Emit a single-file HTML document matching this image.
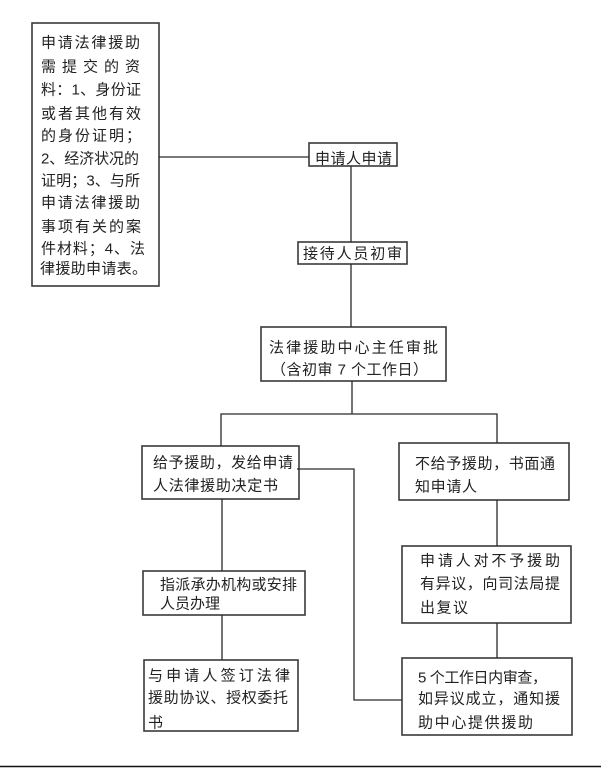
<!DOCTYPE html>
<html><head><meta charset="utf-8"><style>
html,body{margin:0;padding:0;background:#fff;}
svg{display:block;}
text{font-family:"Liberation Sans","Noto Sans CJK SC","WenQuanYi Zen Hei",sans-serif;font-size:15px;fill:#222;}
</style></head><body>
<svg width="601" height="768" viewBox="0 0 601 768" xmlns="http://www.w3.org/2000/svg">
<g fill="none" stroke="#3a3a3a" stroke-width="1.6">
<rect x="32" y="23" width="127" height="263"/>
<rect x="309" y="143" width="88" height="23"/>
<rect x="298" y="242" width="109" height="22"/>
<rect x="261" y="327" width="185" height="54"/>
<rect x="142" y="446" width="157" height="53"/>
<rect x="399" y="443" width="170" height="57"/>
<rect x="143" y="571" width="162" height="44"/>
<rect x="402" y="546" width="169" height="77"/>
<rect x="144" y="660" width="154" height="71"/>
<rect x="402" y="658" width="170" height="77"/>
</g>
<g fill="none" stroke="#2a2a2a" stroke-width="1.3">
<line x1="159" y1="157" x2="309" y2="157"/>
<line x1="351" y1="166" x2="351" y2="242"/>
<line x1="351" y1="264" x2="351" y2="327"/>
<line x1="352" y1="381" x2="352" y2="414"/>
<polyline points="221,446 221,414 497,414 497,443"/>
<line x1="497" y1="500" x2="497" y2="546"/>
<line x1="497" y1="623" x2="497" y2="658"/>
<line x1="222" y1="499" x2="222" y2="571"/>
<line x1="222" y1="615" x2="222" y2="660"/>
<polyline points="297,469 354,469 354,700 402,700"/>
</g>
<line x1="0" y1="766.5" x2="601" y2="766.5" stroke="#111" stroke-width="1.6"/>
<g>
<text x="41" y="47.5" textLength="99" lengthAdjust="spacing">申请法律援助</text>
<text x="41" y="71.5" textLength="99" lengthAdjust="spacing">需提交的资</text>
<text x="41" y="94.5" textLength="100" lengthAdjust="spacing">料：1、身份证</text>
<text x="41" y="118.5" textLength="100" lengthAdjust="spacing">或者其他有效</text>
<text x="41" y="140.5" textLength="100" lengthAdjust="spacing">的身份证明；</text>
<text x="41" y="163.5" textLength="98" lengthAdjust="spacing">2、经济状况的</text>
<text x="41" y="185.5" textLength="99" lengthAdjust="spacing">证明；3、与所</text>
<text x="41" y="207.5" textLength="99" lengthAdjust="spacing">申请法律援助</text>
<text x="41" y="231.5" textLength="100" lengthAdjust="spacing">事项有关的案</text>
<text x="41" y="253.5" textLength="104" lengthAdjust="spacing">件材料；4、法</text>
<text x="40" y="273.5" textLength="107" lengthAdjust="spacing">律援助申请表。</text>

<text x="315" y="163.5" textLength="77" lengthAdjust="spacing">申请人申请</text>
<text x="303" y="258.5" textLength="99" lengthAdjust="spacing">接待人员初审</text>
<text x="269" y="352.5" textLength="169" lengthAdjust="spacing">法律援助中心主任审批</text>
<text x="271" y="374.5" textLength="157" lengthAdjust="spacing">（含初审 7 个工作日）</text>

<text x="153" y="467.5" textLength="140" lengthAdjust="spacing">给予援助，发给申请</text>
<text x="153" y="490.5" textLength="125" lengthAdjust="spacing">人法律援助决定书</text>

<text x="415" y="468.5" textLength="140" lengthAdjust="spacing">不给予援助，书面通</text>
<text x="415" y="491.5" textLength="62" lengthAdjust="spacing">知申请人</text>

<text x="420" y="565.5" textLength="140" lengthAdjust="spacing">申请人对不予援助</text>
<text x="420" y="588.5" textLength="140" lengthAdjust="spacing">有异议，向司法局提</text>
<text x="420" y="612.5" textLength="48" lengthAdjust="spacing">出复议</text>

<text x="418" y="682.5" textLength="129" lengthAdjust="spacing">5 个工作日内审查，</text>
<text x="418" y="703.5" textLength="142" lengthAdjust="spacing">如异议成立，通知援</text>
<text x="418" y="727.5" textLength="115" lengthAdjust="spacing">助中心提供援助</text>

<text x="160" y="589.5" textLength="137" lengthAdjust="spacing">指派承办机构或安排</text>
<text x="160" y="608.5" textLength="60" lengthAdjust="spacing">人员办理</text>

<text x="148" y="680.5" textLength="142" lengthAdjust="spacing">与申请人签订法律</text>
<text x="148" y="702.5" textLength="140" lengthAdjust="spacing">援助协议、授权委托</text>
<text x="148" y="727.5">书</text>
</g>
</svg>
</body></html>
